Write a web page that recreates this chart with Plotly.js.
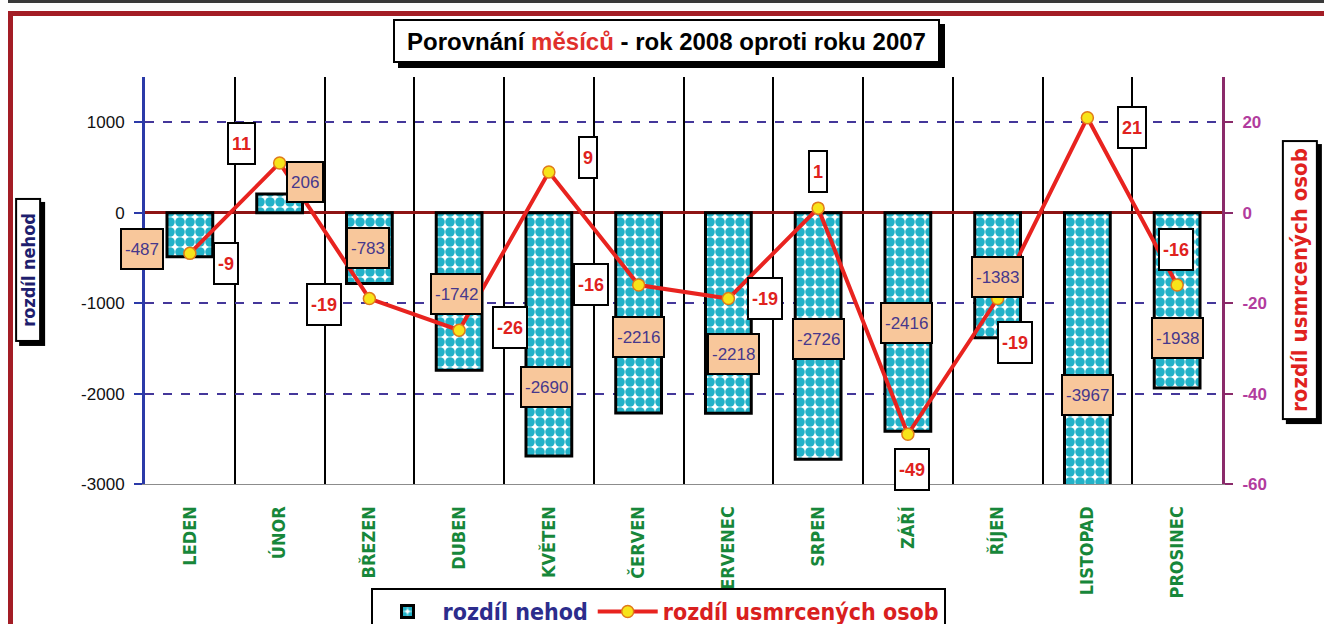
<!DOCTYPE html>
<html>
<head>
<meta charset="utf-8">
<script src="https://cdn.plot.ly/plotly-3.0.1.min.js"></script>
<style>
  html, body { margin: 0; padding: 0; background: #ffffff; width: 1324px; height: 624px; overflow: hidden; }
  #topline { position: absolute; left: 8px; top: 0px; width: 1316px; height: 3px; background: #3a3a3a; }
  #frame { position: absolute; left: 8px; top: 11px; width: 1330px; height: 700px;
           border-left: 5px solid #a31d25; border-top: 5px solid #a31d25; }
  #chart { position: absolute; left: 0; top: 0; width: 1324px; height: 624px; }
</style>
</head>
<body>
<div id="topline"></div>
<div id="frame"></div>
<div id="chart"></div>
<script>
// ---- data ----
const months = ["LEDEN", "ÚNOR", "BŘEZEN", "DUBEN", "KVĚTEN", "ČERVEN",
                "ČERVENEC", "SRPEN", "ZÁŘÍ", "ŘÍJEN", "LISTOPAD", "PROSINEC"];
const accidentDiff = [-487, 206, -783, -1742, -2690, -2216, -2218, -2726, -2416, -1383, -3967, -1938];
const deathDiff = [-9, 11, -19, -26, 9, -16, -19, 1, -49, -19, 21, -16];
const barSeriesName = "rozdíl nehod";
const lineSeriesName = "rozdíl usmrcených osob";
const leftTicks = [-3000, -2000, -1000, 0, 1000];
const rightTicks = [-60, -40, -20, 0, 20];

// ---- label placement (pixel offsets from each point) ----
const barLblDx = [-48, 25, -1, -3, -2, 0, 5, 0, -1, 0, 0, 0];
const barLblUp = [8, 12, 35, 76, 69, 76, 59, 120, 108, 61, 89, 50];
const lineLblDx = [36, -38, -45, 51, 39, -48, 37, 0, 4, 17, 45, -1];
const lineLblUp = [-10.5, 19.5, -5.5, 3, 14.5, 1, 0, 36.5, -35.5, -43.5, -9.5, 36];

const LEFT_MIN = -3000, LEFT_MAX = 1500;
const NARROW = "Liberation Sans Narrow, DejaVu Sans Condensed, Arial Narrow, sans-serif";
const SANS = "Liberation Sans, Arial, sans-serif";

const barTrace = {
  type: "bar",
  x: months,
  y: accidentDiff,
  yaxis: "y",
  name: '<span style="color:#2c2c8c">' + barSeriesName + '</span>',
  marker: {
    color: "#ffffff",
    pattern: { shape: ".", fgcolor: "#22b2c8", bgcolor: "#ffffff", size: 10, solidity: 0.72, fillmode: "replace" },
    line: { color: "#000000", width: 3 }
  },
  hoverinfo: "skip"
};

const lineTrace = {
  type: "scatter",
  mode: "lines+markers",
  x: months,
  y: deathDiff,
  yaxis: "y2",
  name: '<span style="color:#d9201e">' + lineSeriesName + '</span>',
  line: { color: "#e8231f", width: 4 },
  marker: { color: "#f7e41a", size: 12, line: { color: "#e07a1a", width: 1.5 } },
  cliponaxis: false,
  hoverinfo: "skip"
};

const annotations = [];
function boxed(opts) {
  return Object.assign({ xref: "paper", yref: "paper", xanchor: "center", yanchor: "middle",
    showarrow: false, borderpad: 2, borderwidth: 2, bordercolor: "#000" }, opts);
}

// title with shadow
const titleX = 0.4838, titleY = 1.0885;
annotations.push(boxed({ x: titleX, y: titleY, xshift: 5, yshift: -5, text: " ",
  width: 537, height: 34, borderpad: 3, bgcolor: "#000" }));
annotations.push(boxed({ x: titleX, y: titleY,
  text: '<b>Porovnání <span style="color:#e0302c">měsíců</span> - rok 2008 oproti roku 2007</b>',
  width: 537, height: 34, borderpad: 3, bgcolor: "#fff", font: { family: SANS, size: 24, color: "#000" } }));

// left axis title
const ltX = -0.1086, ltY = 0.526;
annotations.push(boxed({ x: ltX, y: ltY, xshift: 4, yshift: -4, textangle: -90, text: " ",
  width: 136, height: 18, bgcolor: "#000" }));
annotations.push(boxed({ x: ltX, y: ltY, textangle: -90, text: "<b>" + barSeriesName + "</b>",
  width: 136, height: 18, bgcolor: "#fff", font: { family: NARROW, size: 18, color: "#1e1e6e" } }));

// right axis title
const rtX = 1.0724, rtY = 0.501;
annotations.push(boxed({ x: rtX, y: rtY, xshift: 4, yshift: -4, textangle: -90, text: " ",
  width: 272, height: 28, bgcolor: "#000" }));
annotations.push(boxed({ x: rtX, y: rtY, textangle: -90, text: "<b>" + lineSeriesName + "</b>",
  width: 272, height: 28, bgcolor: "#fff", font: { family: NARROW, size: 22, color: "#e0221e" } }));

// bar value labels
accidentDiff.forEach((v, i) => {
  const anchor = Math.max(v, LEFT_MIN);
  annotations.push({ xref: "x", yref: "y", x: i, y: anchor, xshift: barLblDx[i], yshift: barLblUp[i],
    xanchor: "center", yanchor: "middle",
    text: String(v), showarrow: false, height: 32, borderpad: 3, borderwidth: 2,
    bordercolor: "#000", bgcolor: "#f8c79b", font: { family: SANS, size: 17, color: "#46388c" } });
});

// line value labels
deathDiff.forEach((v, i) => {
  annotations.push({ xref: "x", yref: "y2", x: i, y: v, xshift: lineLblDx[i], yshift: lineLblUp[i],
    xanchor: "center", yanchor: "middle",
    text: "<b>" + v + "</b>", showarrow: false, height: 33, borderpad: 3, borderwidth: 2,
    bordercolor: "#000", bgcolor: "#fff", font: { family: SANS, size: 18, color: "#e0221e" } });
});

const layout = {
  width: 1324, height: 624,
  margin: { l: 145, r: 102, t: 77, b: 140, pad: 0, autoexpand: false },
  paper_bgcolor: "rgba(0,0,0,0)",
  plot_bgcolor: "#ffffff",
  showlegend: true,
  legend: {
    orientation: "h", xref: "container", yref: "container",
    x: 0.497, xanchor: "center", y: 0.0577, yanchor: "top",
    bgcolor: "#ffffff", bordercolor: "#000", borderwidth: 2,
    font: { family: NARROW, size: 23, color: "#2c2c8c", weight: "bold" },
    itemwidth: 60
  },
  bargap: 0.49,
  xaxis: {
    type: "category",
    range: [-0.5, 11.5],
    automargin: false,
    tickson: "boundaries",
    showgrid: true, gridcolor: "#000", gridwidth: 2,
    ticks: "", tickangle: -90,
    tickfont: { family: NARROW, size: 18, color: "#17873a", weight: "bold" },
    ticklabelstandoff: 14,
    showline: true, linecolor: "#8c8c8c", linewidth: 1,
    zeroline: false
  },
  yaxis: {
    range: [LEFT_MIN, LEFT_MAX],
    automargin: false,
    tickvals: leftTicks,
    ticktext: leftTicks.map(String),
    showgrid: true, gridcolor: "#44379a", gridwidth: 2, griddash: "dash",
    zeroline: true, zerolinecolor: "#8e1414", zerolinewidth: 3,
    showline: true, linecolor: "#2b3aa8", linewidth: 3,
    ticks: "outside", ticklen: 8, tickwidth: 2, tickcolor: "#2b3aa8",
    tickfont: { family: SANS, size: 17, color: "#111" },
    ticklabelstandoff: 6
  },
  yaxis2: {
    overlaying: "y", side: "right",
    range: [-60, 30],
    automargin: false,
    tickvals: rightTicks,
    ticktext: rightTicks.map(String),
    showgrid: false, zeroline: false,
    showline: true, linecolor: "#8a2a6a", linewidth: 3,
    ticks: "outside", ticklen: 8, tickwidth: 2, tickcolor: "#8a2a6a",
    tickfont: { family: SANS, size: 17, color: "#b23c9e", weight: "bold" },
    ticklabelstandoff: 6
  },
  annotations: annotations
};

Plotly.newPlot("chart", [barTrace, lineTrace], layout, { staticPlot: true, displayModeBar: false });
</script>
</body>
</html>
